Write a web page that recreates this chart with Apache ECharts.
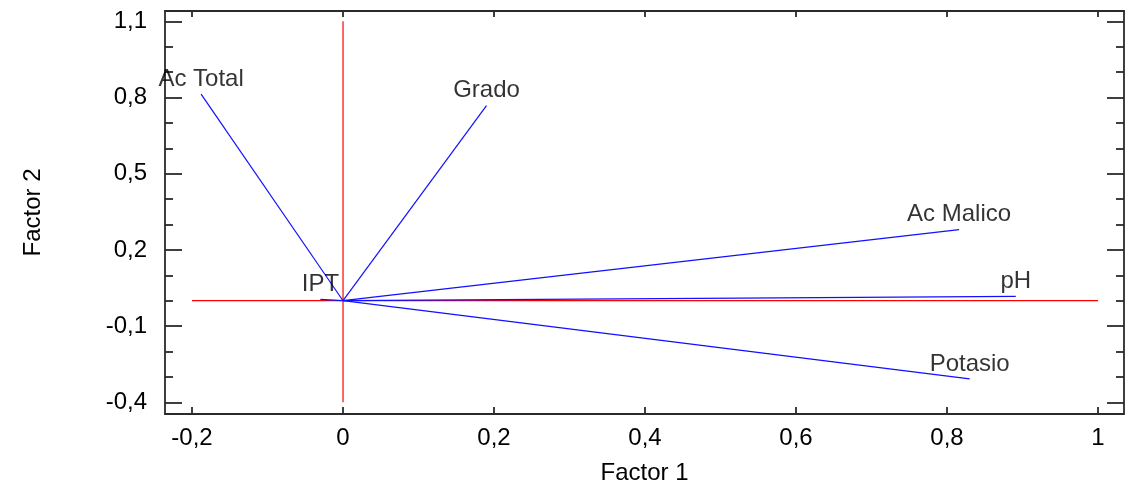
<!DOCTYPE html>
<html>
<head>
<meta charset="utf-8">
<script src="https://cdn.jsdelivr.net/npm/echarts@6/dist/echarts.min.js"></script>
<style>
  html, body { margin: 0; padding: 0; background: #fff; }
  #chart { width: 1132px; height: 488px; }
</style>
</head>
<body>
<div id="chart"></div>
<script>
  // variables (factor loadings)
  const names = ['Ac Total', 'Grado', 'Ac Malico', 'pH', 'Potasio', 'IPT']
  const factor1 = [-0.188, 0.190, 0.816, 0.891, 0.830, -0.030]
  const factor2 = [0.813, 0.768, 0.280, 0.017, -0.308, 0.005]

  // reference lines through origin
  const refH = [[-0.2, 0], [1, 0]]
  const refV = [[0, -0.4], [0, 1.1]]

  // tick labels
  const xTicks = [-0.2, 0, 0.2, 0.4, 0.6, 0.8, 1]
  const yTicks = [-0.4, -0.1, 0.2, 0.5, 0.8, 1.1]
  const yMinor = [-0.3, -0.2, 0, 0.1, 0.3, 0.4, 0.6, 0.7, 0.9, 1.0]

  const font = 'Liberation Sans, Arial, sans-serif'
  const axisColor = '#2a2a2a'
  const comma = v => String(v).replace('.', ',')

  const xRange = { min: -0.2358, max: 1.0344 }
  const yRange = { min: -0.446, max: 1.1406 }

  function yAx(position, ticks, len, showLine, showLabel) {
    return {
      type: 'value', position: position, offset: 0,
      min: yRange.min, max: yRange.max,
      axisLine: { show: showLine, onZero: false, lineStyle: { color: axisColor, width: 1.8 } },
      axisTick: { show: true, inside: true, length: len, customValues: ticks,
        lineStyle: { color: axisColor, width: 1.8 } },
      axisLabel: { show: showLabel, customValues: ticks, formatter: comma, margin: 18,
        color: '#000', fontFamily: font, fontSize: 24 },
      splitLine: { show: false }
    }
  }

  function xAx(position, len, showLabel) {
    return {
      type: 'value', position: position,
      min: xRange.min, max: xRange.max,
      name: showLabel ? 'Factor 1' : '',
      nameLocation: 'middle', nameGap: 47,
      nameTextStyle: { color: '#000', fontFamily: font, fontSize: 24 },
      axisLine: { show: true, onZero: false, lineStyle: { color: axisColor, width: 1.8 } },
      axisTick: { show: true, inside: true, length: len, customValues: xTicks,
        lineStyle: { color: axisColor, width: 1.8 } },
      axisLabel: { show: showLabel, customValues: xTicks, formatter: comma, margin: 12,
        color: '#000', fontFamily: font, fontSize: 24 },
      splitLine: { show: false }
    }
  }

  const yAxes = [
    yAx('left', yTicks, 17, true, true),
    yAx('left', yMinor, 8, false, false),
    yAx('right', yTicks, 17, true, false),
    yAx('right', yMinor, 8, false, false)
  ]
  yAxes[0].name = 'Factor 2'
  yAxes[0].nameLocation = 'middle'
  yAxes[0].nameGap = 120
  yAxes[0].nameTextStyle = { color: '#000', fontFamily: font, fontSize: 24 }

  const series = [
    { type: 'line', data: refH, symbol: 'none', lineStyle: { color: '#ff0000', width: 1.2 }, z: 1 },
    { type: 'line', data: refV, symbol: 'none', lineStyle: { color: '#ff0000', width: 1.2 }, z: 1 }
  ]
  names.forEach((n, i) => {
    series.push({
      type: 'line', symbol: 'none', z: 2,
      data: [[0, 0], [factor1[i], factor2[i]]],
      lineStyle: { color: '#1010ff', width: 1.2 }
    })
  })
  series.push({
    type: 'scatter', symbolSize: 0, z: 3,
    data: names.map((n, i) => ({ name: n, value: [factor1[i], factor2[i]] })),
    label: { show: true, position: 'top', distance: 3, formatter: '{b}',
      color: '#000', fontFamily: font, fontSize: 24 }
  })

  const chart = echarts.init(document.getElementById('chart'))
  chart.setOption({
    animation: false,
    backgroundColor: '#fff',
    grid: { left: 165, right: 8, top: 11, bottom: 74, containLabel: false, outerBoundsMode: 'none' },
    xAxis: [xAx('bottom', 7, true), xAx('top', 6, false)],
    yAxis: yAxes,
    series: series
  })
</script>
</body>
</html>
